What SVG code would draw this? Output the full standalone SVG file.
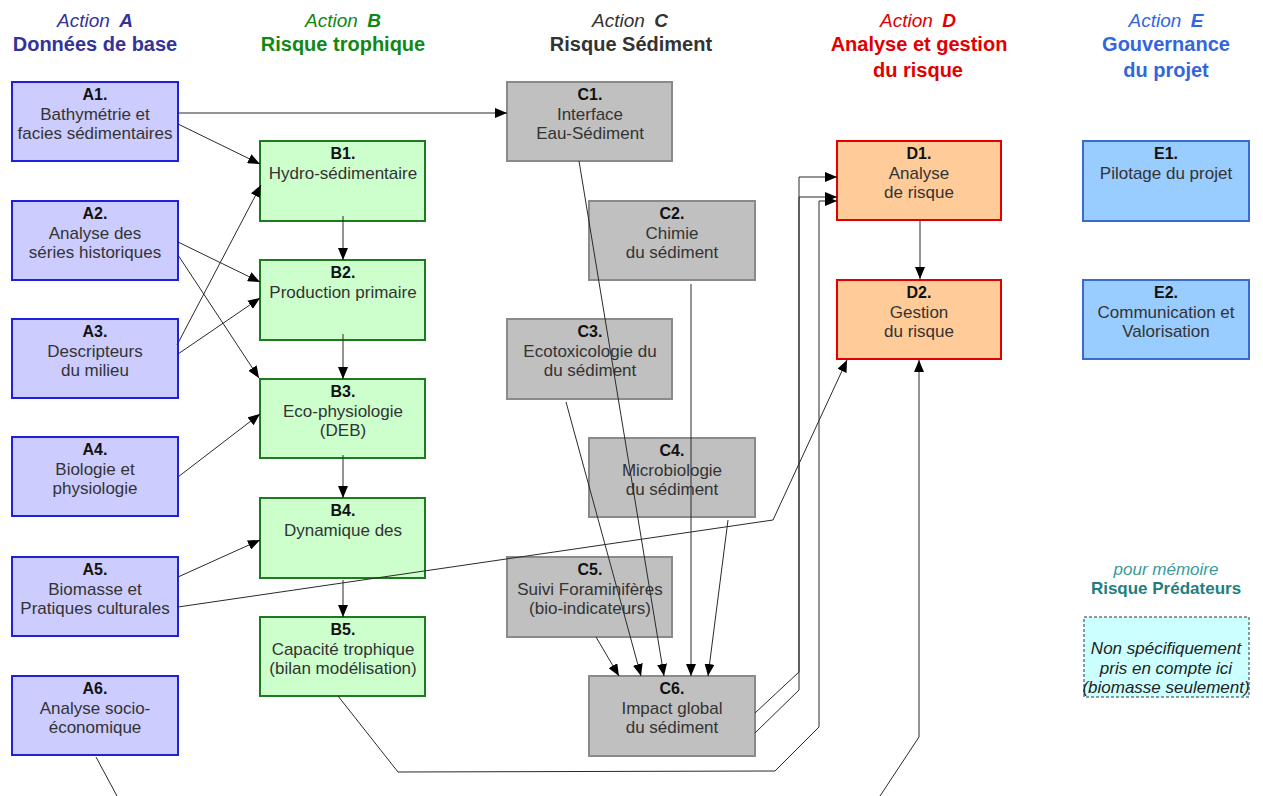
<svg xmlns="http://www.w3.org/2000/svg" width="1263" height="796" viewBox="0 0 1263 796">
<style>
text{font-family:"Liberation Sans",Arial,sans-serif;}
.hd{font-size:19px;font-style:italic;text-anchor:middle;}
.tt{font-size:20px;font-weight:bold;text-anchor:middle;}
.lb{font-size:16px;font-weight:bold;fill:#111;text-anchor:middle;}
.tx{font-size:17px;fill:#333;text-anchor:middle;}
.na{fill:#ccccff;stroke:#1f1fe0;stroke-width:2;}
.nb{fill:#ccffcc;stroke:#1e7a1e;stroke-width:2;}
.nc{fill:#c0c0c0;stroke:#8a8a8a;stroke-width:2;}
.nd{fill:#ffcc99;stroke:#e00000;stroke-width:2;}
.ne{fill:#99ccff;stroke:#3a6ad0;stroke-width:2;}
.cn{fill:none;stroke:#2a2a2a;stroke-width:1;}
.ar{marker-end:url(#ah);}
</style>
<defs>
<marker id="ah" markerUnits="userSpaceOnUse" markerWidth="12" markerHeight="10" refX="12" refY="5" orient="auto">
<path d="M0,0 L12,5 L0,10 z" fill="#000"/>
</marker>
</defs>
<rect width="1263" height="796" fill="#fff"/>
<g id="headers">
<text class="hd" x="95" y="27" fill="#333399">Action <tspan font-weight="bold" dx="4">A</tspan></text>
<text class="tt" x="95" y="51" fill="#333399">Données de base</text>
<text class="hd" x="343" y="27" fill="#118811">Action <tspan font-weight="bold" dx="4">B</tspan></text>
<text class="tt" x="343" y="51" fill="#118811">Risque trophique</text>
<text class="hd" x="630" y="27" fill="#333">Action <tspan font-weight="bold" dx="4">C</tspan></text>
<text class="tt" x="631" y="51" fill="#333">Risque Sédiment</text>
<text class="hd" x="918" y="27" fill="#e00000">Action <tspan font-weight="bold" dx="4">D</tspan></text>
<text class="tt" x="919" y="51" fill="#e00000">Analyse et gestion</text>
<text class="tt" x="918" y="77" fill="#e00000">du risque</text>
<text class="hd" x="1166" y="27" fill="#3366dd">Action <tspan font-weight="bold" dx="4">E</tspan></text>
<text class="tt" x="1166" y="51" fill="#3366dd">Gouvernance</text>
<text class="tt" x="1166" y="77" fill="#3366dd">du projet</text>
</g>
<g id="A1"><rect class="na" x="12" y="82" width="166" height="79"/><text class="lb" x="95" y="100">A1.</text><text class="tx" x="95" y="120">Bathymétrie et</text><text class="tx" x="95" y="139">facies sédimentaires</text></g>
<g id="A2"><rect class="na" x="12" y="201" width="166" height="79"/><text class="lb" x="95" y="219">A2.</text><text class="tx" x="95" y="239">Analyse des</text><text class="tx" x="95" y="258">séries historiques</text></g>
<g id="A3"><rect class="na" x="12" y="319" width="166" height="79"/><text class="lb" x="95" y="337">A3.</text><text class="tx" x="95" y="357">Descripteurs</text><text class="tx" x="95" y="376">du milieu</text></g>
<g id="A4"><rect class="na" x="12" y="437" width="166" height="79"/><text class="lb" x="95" y="455">A4.</text><text class="tx" x="95" y="475">Biologie et</text><text class="tx" x="95" y="494">physiologie</text></g>
<g id="A5"><rect class="na" x="12" y="557" width="166" height="79"/><text class="lb" x="95" y="575">A5.</text><text class="tx" x="95" y="595">Biomasse et</text><text class="tx" x="95" y="614">Pratiques culturales</text></g>
<g id="A6"><rect class="na" x="12" y="676" width="166" height="79"/><text class="lb" x="95" y="694">A6.</text><text class="tx" x="95" y="714">Analyse socio-</text><text class="tx" x="95" y="733">économique</text></g>
<g id="B1"><rect class="nb" x="260" y="141" width="165" height="80"/><text class="lb" x="343" y="159">B1.</text><text class="tx" x="343" y="179">Hydro-sédimentaire</text></g>
<g id="B2"><rect class="nb" x="260" y="260" width="165" height="80"/><text class="lb" x="343" y="278">B2.</text><text class="tx" x="343" y="298">Production primaire</text></g>
<g id="B3"><rect class="nb" x="260" y="379" width="165" height="79"/><text class="lb" x="343" y="397">B3.</text><text class="tx" x="343" y="417">Eco-physiologie</text><text class="tx" x="343" y="436">(DEB)</text></g>
<g id="B4"><rect class="nb" x="260" y="498" width="165" height="80"/><text class="lb" x="343" y="516">B4.</text><text class="tx" x="343" y="536">Dynamique des</text></g>
<g id="B5"><rect class="nb" x="260" y="617" width="165" height="79"/><text class="lb" x="343" y="635">B5.</text><text class="tx" x="343" y="655">Capacité trophique</text><text class="tx" x="343" y="674">(bilan modélisation)</text></g>
<g id="C1"><rect class="nc" x="507" y="82" width="165" height="79"/><text class="lb" x="590" y="100">C1.</text><text class="tx" x="590" y="120">Interface</text><text class="tx" x="590" y="139">Eau-Sédiment</text></g>
<g id="C2"><rect class="nc" x="589" y="201" width="166" height="79"/><text class="lb" x="672" y="219">C2.</text><text class="tx" x="672" y="239">Chimie</text><text class="tx" x="672" y="258">du sédiment</text></g>
<g id="C3"><rect class="nc" x="507" y="319" width="165" height="80"/><text class="lb" x="590" y="337">C3.</text><text class="tx" x="590" y="357">Ecotoxicologie du</text><text class="tx" x="590" y="376">du sédiment</text></g>
<g id="C4"><rect class="nc" x="589" y="438" width="166" height="79"/><text class="lb" x="672" y="456">C4.</text><text class="tx" x="672" y="476">Microbiologie</text><text class="tx" x="672" y="495">du sédiment</text></g>
<g id="C5"><rect class="nc" x="507" y="557" width="165" height="80"/><text class="lb" x="590" y="575">C5.</text><text class="tx" x="590" y="595">Suivi Foraminifères</text><text class="tx" x="590" y="614">(bio-indicateurs)</text></g>
<g id="C6"><rect class="nc" x="589" y="676" width="166" height="80"/><text class="lb" x="672" y="694">C6.</text><text class="tx" x="672" y="714">Impact global</text><text class="tx" x="672" y="733">du sédiment</text></g>
<g id="D1"><rect class="nd" x="837" y="141" width="164" height="79"/><text class="lb" x="919" y="159">D1.</text><text class="tx" x="919" y="179">Analyse</text><text class="tx" x="919" y="198">de risque</text></g>
<g id="D2"><rect class="nd" x="837" y="280" width="164" height="79"/><text class="lb" x="919" y="298">D2.</text><text class="tx" x="919" y="318">Gestion</text><text class="tx" x="919" y="337">du risque</text></g>
<g id="E1"><rect class="ne" x="1083" y="141" width="166" height="80"/><text class="lb" x="1166" y="159">E1.</text><text class="tx" x="1166" y="179">Pilotage du projet</text></g>
<g id="E2"><rect class="ne" x="1083" y="280" width="166" height="79"/><text class="lb" x="1166" y="298">E2.</text><text class="tx" x="1166" y="318">Communication et</text><text class="tx" x="1166" y="337">Valorisation</text></g>
<g id="memo">
<text x="1166" y="575" font-size="17" font-style="italic" fill="#3a9a9a" text-anchor="middle">pour mémoire</text>
<text x="1166" y="594" font-size="17" font-weight="bold" fill="#1f7f7f" text-anchor="middle">Risque Prédateurs</text>
<rect x="1084" y="617" width="165" height="80" fill="#ccffff" stroke="#333" stroke-width="1" stroke-dasharray="3,2"/>
<text x="1166" y="654" font-size="17" font-style="italic" fill="#222" text-anchor="middle">Non spécifiquement</text>
<text x="1166" y="674" font-size="17" font-style="italic" fill="#222" text-anchor="middle">pris en compte ici</text>
<text x="1166" y="693" font-size="17" font-style="italic" fill="#222" text-anchor="middle">(biomasse seulement)</text>
</g>
<g id="connectors">
<path class="cn ar" d="M178,113 L507,113"/>
<path class="cn ar" d="M178,124 L260,164"/>
<path class="cn ar" d="M177,345 L261,185"/>
<path class="cn ar" d="M178,242 L260,282"/>
<path class="cn ar" d="M178,354 L260,298"/>
<path class="cn ar" d="M178,255 L259,378"/>
<path class="cn ar" d="M178,477 L260,414"/>
<path class="cn ar" d="M178,577 L260,540"/>
<path class="cn ar" d="M178,607 L773,520 L847,360"/>
<path class="cn ar" d="M343,216 L343,260"/>
<path class="cn ar" d="M343,334 L343,379"/>
<path class="cn ar" d="M343,455 L343,498"/>
<path class="cn ar" d="M343,580 L343,617"/>
<path class="cn ar" d="M338,696 L398,772 L775,771 L819,727 L819,201 L837,201"/>
<path class="cn ar" d="M755,713 L799,672 L799,177 L837,177"/>
<path class="cn ar" d="M755,733 L799,690 L799,197 L837,197"/>
<path class="cn" d="M96,757 L117,796"/>
<path class="cn ar" d="M880,796 L919,737 L919,360"/>
<path class="cn ar" d="M920,221 L920,279"/>
<path class="cn ar" d="M579,161 L664,676"/>
<path class="cn ar" d="M566,402 L641,676"/>
<path class="cn ar" d="M691,284 L691,676"/>
<path class="cn ar" d="M728,520 L708,676"/>
<path class="cn ar" d="M596,637 L619,676"/>
</g>
</svg>
